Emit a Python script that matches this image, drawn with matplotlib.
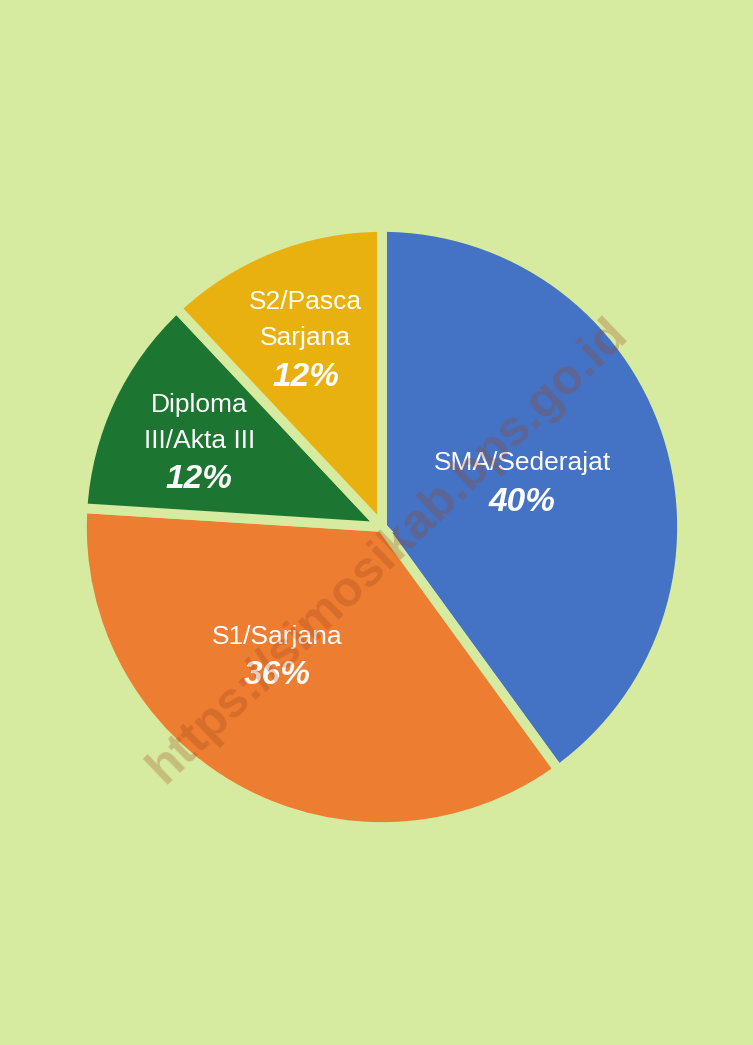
import numpy as np
import matplotlib.pyplot as plt

# data
categories = ['SMA/Sederajat', 'S1/Sarjana', 'Diploma\nIII/Akta III', 'S2/Pasca\nSarjana']
shares = [40, 36, 12, 12]
colors = ['#4472c4', '#ed7d31', '#1c7531', '#e9b10f']

bg = '#d6eaa0'
font = ['Liberation Sans', 'DejaVu Sans']

fig = plt.figure(figsize=(7.53, 10.45), dpi=100)
fig.patch.set_facecolor(bg)

# pie axes placed in pixel space: center (382, 527), radius ~295 px
W, H = 753, 1045
cx, cy, r = 382, 527, 295
ax = fig.add_axes([(cx - r) / W, 1 - (cy + r) / H, 2 * r / W, 2 * r / H])
ax.set_facecolor(bg)

wedges, _ = ax.pie(shares,
                   colors=colors,
                   startangle=90,
                   counterclock=False,
                   radius=1.017,
                   wedgeprops=dict(edgecolor=bg, linewidth=7))
ax.set_xlim(-1, 1)
ax.set_ylim(-1, 1)
ax.set_aspect('equal')
ax.axis('off')

# label placement: radial fraction and angle shift per slice
label_r = [0.50, 0.56, 0.685, 0.69]
label_shift = [0, -10.5, 0, 0.5]
step = 36 / r  # line pitch in data units

for w, name, val, lr, sh in zip(wedges, categories, shares, label_r, label_shift):
    mid = np.deg2rad((w.theta1 + w.theta2) / 2 + sh)
    x, y = lr * np.cos(mid), lr * np.sin(mid)
    lines = name.split('\n')
    n = len(lines) + 1
    top = y + step * (n - 1) / 2
    for i, ln in enumerate(lines):
        ax.text(x, top - i * step, ln, ha='center', va='center',
                color='white', fontsize=19, family=font)
    ax.text(x, top - len(lines) * step - 0.01, f'{val}%', ha='center', va='center',
            color='white', fontsize=24, family=font,
            fontweight='bold', fontstyle='italic')

# watermark
fig.text(0.515, 0.473, 'https://simosikab.bps.go.id', rotation=44,
         ha='center', va='center', fontsize=36, fontweight='bold',
         family=font, color='#a0461a', alpha=0.28)

fig.savefig('out.png', dpi=100, facecolor=bg)
